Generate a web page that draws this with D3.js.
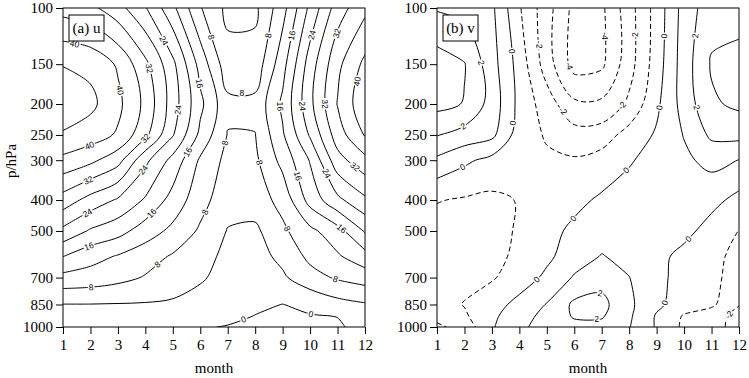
<!DOCTYPE html>
<html><head><meta charset="utf-8">
<script src="https://cdn.jsdelivr.net/npm/d3@7"></script>
<style>
body{margin:0;background:#fff}
svg{display:block}
</style></head><body>
<svg id="chart" width="749" height="378"></svg>
<script>
// ---- data ----
const months = [1,2,3,4,5,6,7,8,9,10,11,12];
const pressureLevels = [100,150,200,250,300,400,500,600,700,850,925,1000];
const pressureTicks = [100,150,200,250,300,400,500,700,850,1000];
const uLevels = [0,4,8,12,16,20,24,28,32,36,40,44];
const vLevels = [-4,-3,-2,-1,0,1,2,3];

// (a) u, one array per pressure level, months 1..12
const u100  = [34.5, 33, 29.5, 24.3, 17, 8.3, 3.0, 3.2, 10.5, 21, 30, 35];
const u150  = [43.8, 43, 39.5, 33, 25, 14.5, 5.5, 5.5, 14.5, 26, 35, 41];
const u200  = [47, 45, 41, 35, 26, 17, 9, 9, 16.8, 27, 36.2, 43];
const u250  = [43.5, 42, 39.5, 33, 24.3, 15, 7.8, 7.9, 15.5, 24.5, 34, 40.3];
const u300  = [39, 37, 33.5, 25, 18.7, 11.4, 6.8, 7.2, 13.3, 20.3, 30.5, 34.8];
const u400  = [30.3, 26.5, 23.5, 19.5, 14.5, 9.5, 5.5, 6, 9.3, 17.5, 23, 27.2];
const u500  = [23, 19.5, 17.5, 14, 11, 7.4, 3.8, 3.2, 7.2, 11, 14.5, 20.4];
const u600  = [16.1, 13.5, 11.7, 9.7, 7.6, 5.5, 3, 2.5, 5, 9, 11.5, 14.6];
const u700  = [10.8, 10.3, 9.2, 7.7, 6.2, 4.5, 2.5, 1.5, 3.4, 6.5, 8.5, 9.8];
const u850  = [3.9, 3.9, 3.8, 3.7, 3.4, 2.4, 1.3, 0.7, -0.05, 0.8, 2.6, 3.6];
const u925  = [2.2, 2.2, 2.1, 2, 1.8, 1.4, 0.9, -0.1, -0.7, -0.2, 0.05, 1.8];
const u1000 = [1.2, 1.2, 1.1, 1, 0.8, 0.3, -0.2, -0.8, -1.2, -0.9, -0.3, 0.8];

// (b) v
const v100  = [1.9, 1.6, 1.2, -0.9, -2.6, -4.3, -4.2, -2.4, -0.6, 1.4, 2.6, 2.5];
const v150  = [3.5, 3.05, 1.4, -0.4, -2.5, -4.4, -4.2, -2.4, -0.5, 1.5, 3.1, 3.4];
const v200  = [3.3, 2.95, 1.6, -0.3, -1.5, -2.8, -2.8, -1.8, -0.2, 1.4, 2.85, 3.2];
const v250  = [2.05, 1.6, 1.25, -0.5, -1.1, -1.6, -1.5, -0.6, 0.12, 1.05, 2.2, 2.3];
const v300  = [0.8, 0.2, -0.3, -0.75, -0.85, -0.9, -0.6, -0.1, 0.4, 0.8, 1.3, 0.98];
const v400  = [-0.95, -1.1, -1.2, -0.95, -0.6, -0.25, 0.15, 0.45, 0.6, 0.6, 0.3, -0.3];
const v500  = [-1.4, -1.5, -1.3, -0.9, -0.3, 0.2, 0.55, 0.7, 0.6, 0.3, -0.4, -1.02];
const v600  = [-1.5, -1.6, -1.4, -0.7, -0.2, 0.5, 1.05, 0.7, 0.3, -0.3, -0.85, -1.15];
const v700  = [-1.4, -1.3, -1.1, -0.5, 0.2, 1.1, 1.6, 1.02, 0.25, -0.35, -0.7, -1.5];
const v850  = [-1.4, -0.95, -0.4, 0.3, 1.05, 2.2, 2.3, 1.2, 0.2, -0.5, -0.8, -1.95];
const v925  = [-1.7, -1.15, -0.2, 0.6, 1.3, 2.1, 2.1, 1.15, -0.1, -1.1, -1.6, -2.3];
const v1000 = [-2.2, -1.6, -0.1, 0.8, 1.4, 1.7, 1.7, 1.05, -0.1, -1.2, -1.6, -2.4];

const uGrid = [u100,u150,u200,u250,u300,u400,u500,u600,u700,u850,u925,u1000];
const vGrid = [v100,v150,v200,v250,v300,v400,v500,v600,v700,v850,v925,v1000];

// ---- drawing ----
const svg = d3.select("#chart");
const plotTop = 8, plotH = 319, plotW = 302;
const serif = "'Liberation Serif','Times New Roman',serif";
const sans = "'Liberation Sans',Arial,sans-serif";

function buildRuns(values, level, nx, ny) {
  const mp = d3.contours().size([nx, ny]).contour(values, level);
  const runs = [];
  const eps = 1e-9;
  const isIn = p => p[0] >= 0.5 - eps && p[0] <= nx - 0.5 + eps && p[1] >= 0.5 - eps && p[1] <= ny - 0.5 + eps;
  for (const poly of mp.coordinates) for (const ring of poly) {
    let pts = ring.slice();
    const a = pts[0], b = pts[pts.length-1];
    if (a[0] === b[0] && a[1] === b[1]) pts = pts.slice(0, -1);
    const n = pts.length;
    const ins = pts.map(isIn);
    const k = ins.indexOf(false);
    if (k < 0) { runs.push({pts, closed: true}); continue; }
    let cur = [];
    for (let i = 1; i <= n; i++) {
      const idx = (k + i) % n;
      if (ins[idx]) cur.push(pts[idx]);
      else { if (cur.length >= 2) runs.push({pts: cur, closed: false}); cur = []; }
    }
    if (cur.length >= 2) runs.push({pts: cur, closed: false});
  }
  return runs;
}

function drawPanel(cfg) {
  const x0 = cfg.x0;
  const xS = d3.scaleLinear().domain([1, 12]).range([x0, x0 + plotW]);
  const yS = d3.scaleLog().domain([100, 1000]).range([plotTop, plotTop + plotH]);
  const nx = months.length, ny = pressureLevels.length;
  const values = cfg.grid.flat();
  const logP = pressureLevels.map(Math.log);
  const pOf = t => {
    const i = Math.max(0, Math.min(ny - 2, Math.floor(t)));
    const f = t - i;
    return Math.exp(logP[i] + f * (logP[i + 1] - logP[i]));
  };
  const toPx = p => [xS(p[0] + 0.5), yS(pOf(p[1] - 0.5))];

  const clipId = "clip" + cfg.id;
  svg.append("clipPath").attr("id", clipId).append("rect")
    .attr("x", x0).attr("y", plotTop).attr("width", plotW).attr("height", plotH);

  const g = svg.append("g").attr("clip-path", `url(#${clipId})`);
  const gl = svg.append("g").attr("clip-path", `url(#${clipId})`);
  const lineOpen = d3.line().curve(d3.curveCatmullRom.alpha(0.5));
  const lineClosed = d3.line().curve(d3.curveCatmullRomClosed.alpha(0.5));

  cfg.levels.forEach(lv => {
    const runs = buildRuns(values, lv, nx, ny);
    runs.forEach(r => {
      const px = r.pts.map(toPx);
      g.append("path")
        .attr("d", r.closed ? lineClosed(px) : lineOpen(px))
        .attr("fill", "none")
        .attr("stroke", "#000")
        .attr("stroke-width", 1)
        .attr("stroke-dasharray", lv < 0 ? "5,3" : null);
      if (Math.abs(lv % cfg.labelStep) < 1e-9) placeLabels(gl, px, r.closed, String(lv), x0);
    });
  });

  // frame
  svg.append("rect").attr("x", x0).attr("y", plotTop).attr("width", plotW).attr("height", plotH)
    .attr("fill", "none").attr("stroke", "#000").attr("stroke-width", 1);

  // axes
  const ya = svg.append("g").attr("transform", `translate(${x0},0)`)
    .call(d3.axisLeft(yS).tickValues(pressureTicks).tickFormat(d3.format("d")).tickSize(7).tickSizeOuter(0).tickPadding(3));
  const xa = svg.append("g").attr("transform", `translate(0,${plotTop + plotH})`)
    .call(d3.axisBottom(xS).tickValues(months).tickFormat(d3.format("d")).tickSize(7).tickSizeOuter(0).tickPadding(5));
  [ya, xa].forEach(a => {
    a.select(".domain").remove();
    a.selectAll("text").attr("font-family", serif).attr("font-size", 15).attr("fill", "#000");
    a.selectAll("line").attr("stroke", "#000");
  });

  svg.append("text").attr("x", x0 + plotW / 2).attr("y", 373).attr("text-anchor", "middle")
    .attr("font-family", serif).attr("font-size", 15).text("month");
  if (cfg.yTitle) {
    svg.append("text").attr("transform", "translate(16,161) rotate(-90)").attr("text-anchor", "middle")
      .attr("font-family", serif).attr("font-size", 15).text("p/hPa");
  }
  // panel tag
  const bx = x0 + 6, by = 15, bw = 35, bh = 26;
  svg.append("rect").attr("x", bx).attr("y", by).attr("width", bw).attr("height", bh)
    .attr("fill", "#fff").attr("stroke", "#000").attr("stroke-width", 1);
  svg.append("text").attr("x", bx + bw / 2).attr("y", by + 18).attr("text-anchor", "middle")
    .attr("font-family", serif).attr("font-size", 15).text(cfg.title);
}

function placeLabels(g, px, closed, text, x0) {
  const pts = closed ? px.concat([px[0]]) : px;
  const cum = [0];
  for (let i = 1; i < pts.length; i++) cum.push(cum[i - 1] + Math.hypot(pts[i][0] - pts[i - 1][0], pts[i][1] - pts[i - 1][1]));
  const L = cum[cum.length - 1];
  if (L < 25) return;
  const at = s => {
    s = Math.max(0, Math.min(L, s));
    let i = 1;
    while (i < cum.length - 1 && cum[i] < s) i++;
    const seg = cum[i] - cum[i - 1] || 1;
    const f = (s - cum[i - 1]) / seg;
    return [pts[i - 1][0] + f * (pts[i][0] - pts[i - 1][0]), pts[i - 1][1] + f * (pts[i][1] - pts[i - 1][1])];
  };
  const spacing = 72;
  const start = Math.min(28, L / 2);
  for (let s = start; s <= L - 8; s += spacing) {
    const p = at(s), a = at(s - 6), b = at(s + 6);
    if (p[0] < x0 + 6 || p[0] > x0 + plotW - 6 || p[1] < plotTop + 6 || p[1] > plotTop + plotH - 6) continue;
    let ang = Math.atan2(b[1] - a[1], b[0] - a[0]) * 180 / Math.PI;
    if (ang > 90) ang -= 180;
    if (ang < -90) ang += 180;
    g.append("text")
      .attr("transform", `translate(${p[0]},${p[1]}) rotate(${ang})`)
      .attr("text-anchor", "middle").attr("dy", "0.35em")
      .attr("font-family", sans).attr("font-size", 8.5)
      .attr("stroke", "#fff").attr("stroke-width", 3).attr("paint-order", "stroke")
      .attr("fill", "#000").text(text);
  }
}

drawPanel({id: "a", x0: 63, grid: uGrid, levels: uLevels, labelStep: 8, title: "(a) u", yTitle: true});
drawPanel({id: "b", x0: 437, grid: vGrid, levels: vLevels, labelStep: 2, title: "(b) v", yTitle: false});
</script>
</body></html>
